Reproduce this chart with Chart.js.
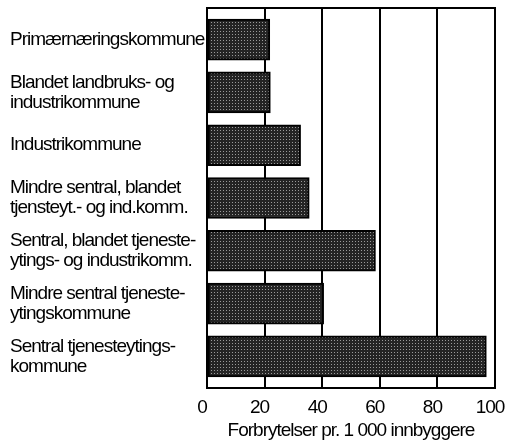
<!DOCTYPE html>
<html>
<head>
<meta charset="utf-8">
<script src="https://cdn.jsdelivr.net/npm/chart.js@4.4.1/dist/chart.umd.min.js"></script>
<style>
  html, body { margin: 0; padding: 0; background: #fff; }
  #wrap { width: 510px; height: 442px; }
</style>
</head>
<body>
<div id="wrap"><canvas id="chart_crime" width="510" height="442"></canvas></div>
<script>
const categories = [
    ["Primærnæringskommune"],
    ["Blandet landbruks- og", "industrikommune"],
    ["Industrikommune"],
    ["Mindre sentral, blandet", "tjensteyt.- og ind.komm."],
    ["Sentral, blandet tjeneste-", "ytings- og industrikomm."],
    ["Mindre sentral tjeneste-", "ytingskommune"],
    ["Sentral tjenesteytings-", "kommune"],
];
const values = [21.8, 22, 32.5, 35.5, 58.5, 40.5, 97];
const xTicks = [0, 20, 40, 60, 80, 100];
const xTitle = "Forbrytelser pr. 1 000 innbyggere";

const FONT = "'Liberation Sans', Arial, sans-serif";

// printed screen tone: dark fill with small light dots
function screenTone() {
    const c = document.createElement("canvas");
    c.width = 3;
    c.height = 3;
    const g = c.getContext("2d");
    g.fillStyle = "#242424";
    g.fillRect(0, 0, 3, 3);
    g.fillStyle = "#9a9a9a";
    g.fillRect(1, 1, 1, 1);
    return g.createPattern(c, "repeat");
}

// the printed type is narrow, so pull the letters together a little
const tightText = {
    id: "tightText",
    beforeUpdate(chart) { chart.ctx.letterSpacing = "-1px"; },
    beforeDraw(chart) { chart.ctx.letterSpacing = "-1px"; },
};

const boxPlugin = {
    id: "box",
    afterDraw(chart) {
        const a = chart.chartArea;
        const ctx = chart.ctx;
        ctx.save();
        ctx.strokeStyle = "#000";
        ctx.lineWidth = 2;
        ctx.strokeRect(a.left, a.top, a.right - a.left, a.bottom - a.top);
        ctx.restore();
    },
};

const data = {
    datasets: [
        {
            data: values.map((v, i) => ({ x: v, y: i })),
            backgroundColor: screenTone(),
            borderColor: "#000",
            borderWidth: 2,
            borderSkipped: false,
            barThickness: 41,
        },
    ],
};

const config = {
    type: "bar",
    data: data,
    options: {
        indexAxis: "y",
        responsive: false,
        animation: false,
        layout: { padding: { left: 10, right: 0, top: 8, bottom: 0 } },
        plugins: { legend: { display: false }, tooltip: { enabled: false } },
        scales: {
            x: {
                type: "linear",
                min: 0,
                max: 100,
                afterBuildTicks: (s) => { s.ticks = xTicks.map((v) => ({ value: v })); },
                afterFit: (s) => {
                    s.height = 54;
                    s.paddingLeft = 0;
                    s.paddingRight = 15;
                },
                grid: { color: "#000", lineWidth: 2, drawTicks: false },
                border: { display: false },
                ticks: {
                    color: "#000",
                    padding: 8,
                    labelOffset: -5,
                    font: { family: FONT, size: 19 },
                },
                title: {
                    display: true,
                    text: xTitle,
                    color: "#000",
                    padding: 0,
                    font: { family: FONT, size: 19 },
                },
            },
            y: {
                type: "linear",
                min: -0.6,
                max: 6.6,
                reverse: true,
                offset: false,
                afterBuildTicks: (s) => { s.ticks = categories.map((_, i) => ({ value: i })); },
                afterFit: (s) => {
                    s.width = 197;
                    s.paddingTop = 0;
                    s.paddingBottom = 0;
                },
                grid: { display: false },
                border: { display: false },
                ticks: {
                    crossAlign: "far",
                    color: "#000",
                    font: { family: FONT, size: 19, lineHeight: 1.05 },
                    callback: (v) => categories[v],
                },
            },
        },
    },
    plugins: [tightText, boxPlugin],
};

const ctxCrime = document.getElementById("chart_crime");
const crimeChart = new Chart(ctxCrime, config);
</script>
</body>
</html>
